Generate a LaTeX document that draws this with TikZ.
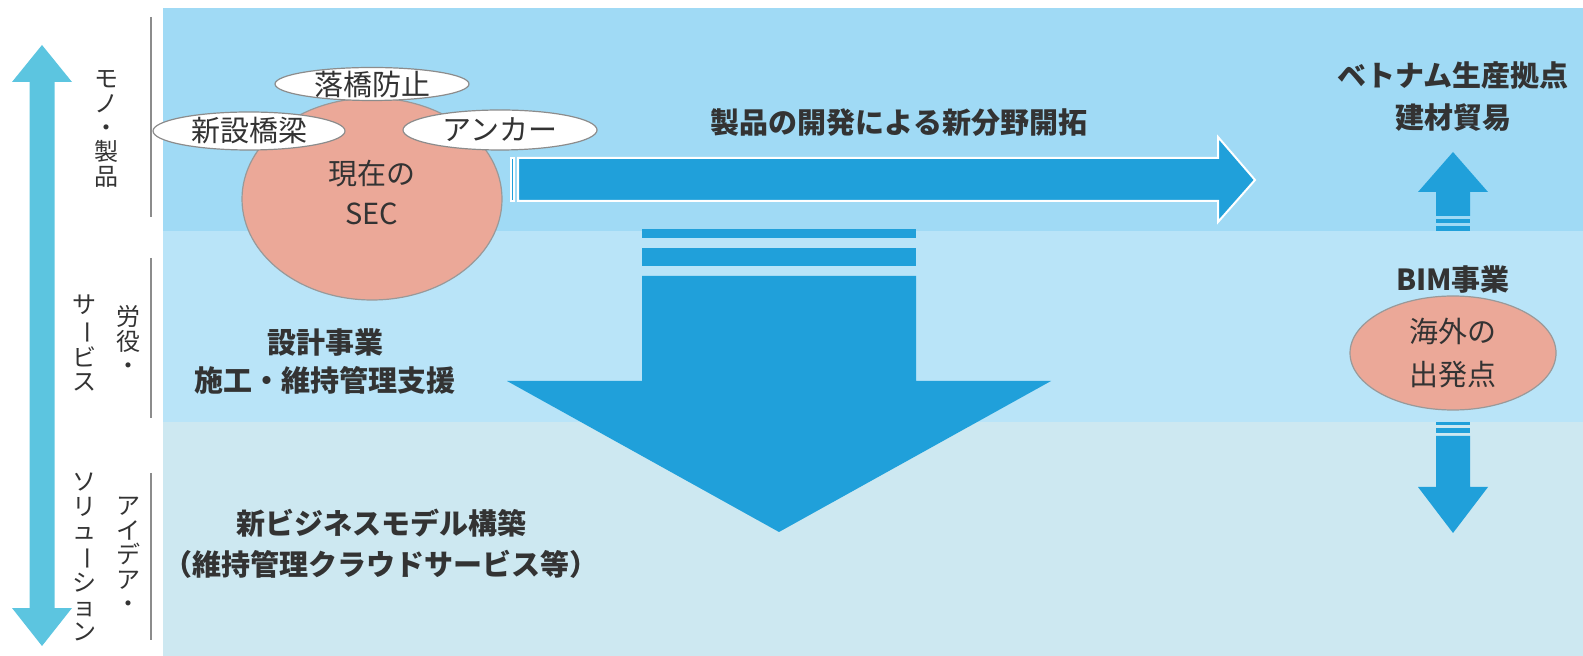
\documentclass[tikz,border=0pt]{standalone}
\usepackage{fontspec}
\usepackage{graphicx}
\usetikzlibrary{shapes.geometric}
\newfontfamily\jp{Noto Sans CJK JP}
\definecolor{bandA}{HTML}{A0DAF5}
\definecolor{bandB}{HTML}{B9E4F8}
\definecolor{bandC}{HTML}{CDE8F1}
\definecolor{arrowblue}{HTML}{20A0DA}
\definecolor{salmon}{HTML}{EBA898}
\definecolor{vblue}{HTML}{5CC5E0}
\definecolor{txt}{HTML}{333333}
\definecolor{sepgrey}{HTML}{8C8C8C}
\newcommand{\vbar}{\rotatebox[origin=c]{-90}{ー}}
\begin{document}
\begin{tikzpicture}[x=0.5pt,y=-0.5pt,
  main/.style={font=\jp\fontsize{14.5}{20}\selectfont, text=txt, align=center, inner sep=0},
  title/.style={font=\jp\bfseries\fontsize{14.5}{21}\selectfont, text=txt, align=center, inner sep=0},
  vtext/.style={font=\jp\fontsize{12}{12.2}\selectfont, text=txt, align=center, inner sep=0},
  tagshape/.style={ellipse, draw=sepgrey, fill=white, line width=0.6pt, inner sep=0},
  blob/.style={ellipse, draw=gray!80, fill=salmon, line width=0.6pt, inner sep=0},
  sep/.style={draw=sepgrey, line width=0.8pt},
  outlined/.style={draw=white, line width=1pt, fill=arrowblue}]
\useasboundingbox (0,0) rectangle (1583,656);
% bands
\fill[bandA] (163,8) rectangle (1583,231);
\fill[bandB] (163,231) rectangle (1583,422);
\fill[bandC] (163,422) rectangle (1583,656);
% separators
\draw[sep] (151,17) -- (151,217);
\draw[sep] (151,258) -- (151,418);
\draw[sep] (151,473) -- (151,640);
% left double arrow
\fill[vblue] (42,45) -- (72,82) -- (54.5,82) -- (54.5,608) -- (72,608) -- (42,646) -- (12,608) -- (29.5,608) -- (29.5,82) -- (12,82) -- cycle;
% vertical labels
\node[vtext] (mono) at (106,129) {モ\\ノ\\・\\製\\品};
\node[vtext] (roeki) at (128,340) {労\\役\\・};
\node[vtext] (service) at (84,343) {サ\\\vbar\\ビ\\ス};
\node[vtext] (idea) at (128,555) {ア\\イ\\デ\\ア\\・};
\node[vtext] (solution) at (84,557) {ソ\\リ\\ュ\\\vbar\\シ\\ョ\\ン};
% big down arrow
\fill[arrowblue] (642,229) rectangle (916,238);
\fill[arrowblue] (642,248) rectangle (916,266);
\fill[arrowblue] (642,276) -- (916,276) -- (916,381) -- (1051,381) -- (779,532) -- (507,381) -- (642,381) -- cycle;
% horizontal arrow
\path[outlined] (511,158) rectangle (514,201);
\path[outlined] (518,158) -- (1218,158) -- (1218,137) -- (1255,180) -- (1218,222) -- (1218,201) -- (518,201) -- cycle;
% current SEC
\node[blob, minimum width=130pt, minimum height=101pt] (sec) at (372,199) {};
\node[main] (sectext) at (372,193) {現在の\\SEC};
\node[tagshape, minimum width=97pt, minimum height=16.5pt] (rakkyo) at (372,84) {};
\node[main] at (rakkyo) {落橋防止};
\node[tagshape, minimum width=96pt, minimum height=19pt] (shinsetsu) at (249,131) {};
\node[main] at (shinsetsu) {新設橋梁};
\node[tagshape, minimum width=97pt, minimum height=20pt] (anchor) at (500,130) {};
\node[main] at (anchor) {アンカー};
% right column arrows
\fill[arrowblue] (1453,152) -- (1488,192) -- (1470,192) -- (1470,216) -- (1436,216) -- (1436,192) -- (1418,192) -- cycle;
\fill[arrowblue] (1436,219) rectangle (1470,223);
\fill[arrowblue] (1436,226) rectangle (1470,231);
\fill[arrowblue] (1436,422) rectangle (1470,425);
\fill[arrowblue] (1436,428) rectangle (1470,433);
\fill[arrowblue] (1436,436) -- (1470,436) -- (1470,487) -- (1488,487) -- (1453,533) -- (1418,487) -- (1436,487) -- cycle;
% texts
\node[title] (kaitaku) at (899,123) {製品の開発による新分野開拓};
\node[title] (vietnam) at (1453,97) {ベトナム生産拠点\\建材貿易};
\node[title] (bim) at (1453,280) {BIM事業};
\node[blob, minimum width=103pt, minimum height=57pt] (kaigai) at (1453,353) {};
\node[main, font=\jp\fontsize{14.5}{21.5}\selectfont] at (kaigai) {海外の\\出発点};
\node[title, font=\jp\bfseries\fontsize{14.5}{19}\selectfont] (sekkei) at (325,361) {設計事業\\施工・維持管理支援};
\node[title, font=\jp\bfseries\fontsize{14.5}{20.5}\selectfont] (newbiz) at (381,544) {新ビジネスモデル構築\\（維持管理クラウドサービス等）};
\end{tikzpicture}
\end{document}
